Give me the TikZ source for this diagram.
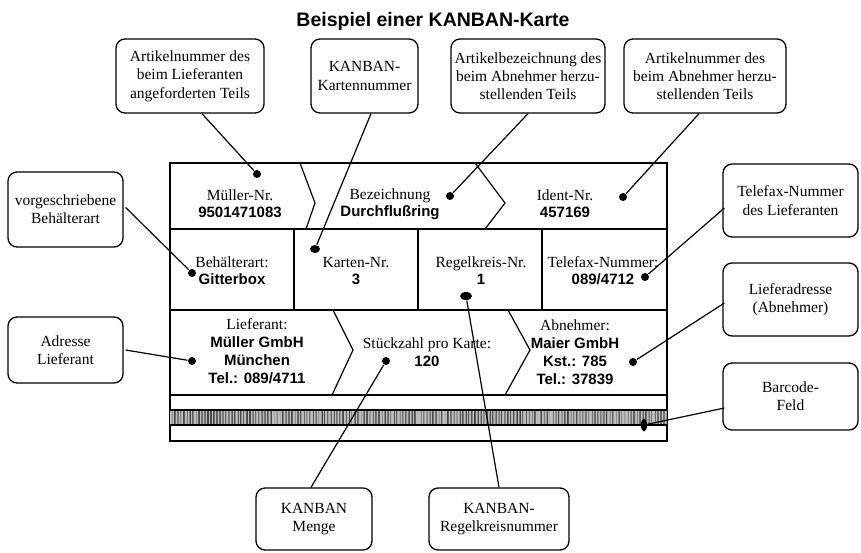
\documentclass[tikz,border=0pt]{standalone}
\usepackage{fontspec}
\setmainfont{Liberation Serif}
\newfontfamily\cardsf{Liberation Sans}
\newcommand{\fieldval}[1]{{\cardsf\bfseries\fontsize{15}{17}\selectfont #1}}
\usetikzlibrary{shapes.geometric}

\begin{document}
\begin{tikzpicture}[x=1pt,y=-1pt,line width=1.2pt,
calloutnode/.style={draw=black, line width=1.3pt, rounded corners=9pt, align=center, inner sep=0pt, font=\fontsize{15.5}{18.3}\selectfont},
fieldnode/.style={align=center, inner sep=0pt, font=\fontsize{15.5}{17}\selectfont},
dotnode/.style={circle, fill=black, inner sep=0pt, minimum size=8pt},
ovalnode/.style={ellipse, fill=black, inner sep=0pt},
]
\useasboundingbox (0,0) rectangle (861,552);

\node[font=\cardsf\bfseries\fontsize{19.5}{22}\selectfont] (title) at (433,21) {Beispiel einer KANBAN-Karte};

% Card
\draw[line width=1.3pt] (170,163) rectangle (667,441);
\draw (170,229) -- (667,229);
\draw (170,310) -- (667,310);
\draw (170,395) -- (667,395);
\draw (294,229) -- (294,310);
\draw (418,229) -- (418,310);
\draw (542,229) -- (542,310);
\draw (300,163) -- (315,203) -- (306,229);
\draw (475,163) -- (505,203) -- (485,229);
\draw (333,310) -- (353,350) -- (332,395);
\draw (508,310) -- (530,350) -- (505,395);

% Barcode
\fill[gray!50] (170,410) rectangle (667,425);
\pgfmathsetseed{3}
\foreach \bx in {171,172.5,...,666}{
  \pgfmathsetmacro{\bg}{25+50*rnd}
  \draw[line width=0.8pt, black!\bg] (\bx,410.6) -- (\bx,424.4);
}
\draw (170,410) -- (667,410);
\draw (170,425) -- (667,425);

% Fields
\node[fieldnode] (mnr) at (240,204) {M\"uller-Nr.\\\fieldval{9501471083}};
\node[fieldnode] (bez) at (390,204) {Bezeichnung\\\fieldval{Durchflu\ss ring}};
\node[fieldnode] (ident) at (565,204) {Ident-Nr.\\\fieldval{457169}};
\node[fieldnode] (beh) at (232,271) {Beh\"alterart:\\\fieldval{Gitterbox}};
\node[fieldnode] (knr) at (356,271) {Karten-Nr.\\\fieldval{3}};
\node[fieldnode] (rnr) at (481,271) {Regelkreis-Nr.\\\fieldval{1}};
\node[fieldnode] (fax) at (603,271) {Telefax-Nummer:\\\fieldval{089/4712}};
\node[fieldnode, font=\fontsize{15.5}{18}\selectfont] (lief) at (257,351) {Lieferant:\\\fieldval{M\"uller GmbH}\\\fieldval{M\"unchen}\\\fieldval{Tel.: 089/4711}};
\node[fieldnode, font=\fontsize{15.5}{18}\selectfont] (stk) at (427,352) {St\"uckzahl pro Karte:\\\fieldval{120}};
\node[fieldnode, font=\fontsize{15.5}{18}\selectfont] (abn) at (575,352) {Abnehmer:\\\fieldval{Maier GmbH}\\\fieldval{Kst.: 785}\\\fieldval{Tel.: 37839}};

% Dots
\node[dotnode] (dmnr) at (257,174) {};
\node[dotnode] (dbez) at (450,196) {};
\node[dotnode] (dident) at (623,197) {};
\node[dotnode] (dbeh) at (192,273) {};
\node[ovalnode, minimum width=10pt, minimum height=8pt] (dkart) at (315,249) {};
\node[ovalnode, minimum width=12pt, minimum height=8pt] (dregel) at (466,296) {};
\node[dotnode] (dfax) at (645,277) {};
\node[dotnode] (dlief) at (192,361) {};
\node[dotnode] (dstk) at (386,361) {};
\node[dotnode] (dabn) at (633,362) {};
\node[ovalnode, minimum width=6pt, minimum height=13pt] (dbar) at (644,425) {};

% Callouts
\node[calloutnode, minimum width=148pt, minimum height=74pt] (artnr) at (190,76) {Artikelnummer des\\beim Lieferanten\\angeforderten Teils};
\node[calloutnode, minimum width=107pt, minimum height=74pt] (kartnr) at (364.5,76) {KANBAN-\\Kartennummer};
\node[calloutnode, minimum width=154pt, minimum height=74pt] (bezbox) at (528,76) {Artikelbezeichnung des\\beim Abnehmer herzu-\\stellenden Teils};
\node[calloutnode, minimum width=162pt, minimum height=74pt] (identbox) at (705,76) {Artikelnummer des\\beim Abnehmer herzu-\\stellenden Teils};
\node[calloutnode, minimum width=115pt, minimum height=75pt] (behbox) at (65.5,209.5) {vorgeschriebene\\Beh\"alterart};
\node[calloutnode, minimum width=115pt, minimum height=66pt] (adrbox) at (65.5,350) {Adresse\\Lieferant};
\node[calloutnode, minimum width=135pt, minimum height=73pt] (faxbox) at (790.5,200.5) {Telefax-Nummer\\des Lieferanten};
\node[calloutnode, minimum width=135pt, minimum height=73pt] (liefbox) at (790.5,299.5) {Lieferadresse\\(Abnehmer)};
\node[calloutnode, minimum width=135pt, minimum height=67pt] (barbox) at (790.5,396.5) {Barcode-\\Feld};
\node[calloutnode, minimum width=116pt, minimum height=62pt] (mengebox) at (314,519) {KANBAN\\Menge};
\node[calloutnode, minimum width=140pt, minimum height=62pt] (regelbox) at (499,519) {KANBAN-\\Regelkreisnummer};

% Connectors
\draw ([xshift=12pt]artnr.south) -- (dmnr);
\draw ([xshift=6.5pt]kartnr.south) -- (dkart);
\draw (bezbox.south) -- (dbez);
\draw ([xshift=-6pt]identbox.south) -- (dident);
\draw ([xshift=2pt,yshift=2pt]behbox.east) -- (dbeh);
\draw ([xshift=2pt]adrbox.east) -- (dlief);
\draw ([xshift=2pt,yshift=-7.5pt]faxbox.west) -- (dfax);
\draw ([xshift=2pt,yshift=-3.5pt]liefbox.west) -- (dabn);
\draw ([xshift=2pt,yshift=-11.5pt]barbox.west) -- (dbar);
\draw ([xshift=-3pt]mengebox.north) -- (dstk);
\draw (regelbox.north) -- (dregel);

\end{tikzpicture}
\end{document}
